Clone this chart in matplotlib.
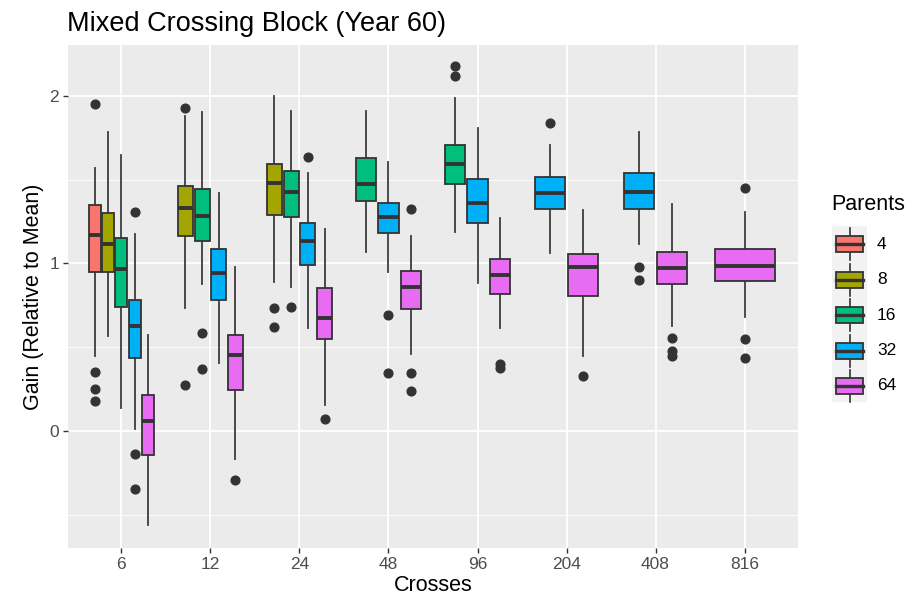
import matplotlib
matplotlib.use("Agg")
import matplotlib.pyplot as plt
from matplotlib.patches import Rectangle
from matplotlib.lines import Line2D

plt.rcParams['font.family'] = ['Liberation Sans', 'DejaVu Sans']

crosses = ["6", "12", "24", "48", "96", "204", "408", "816"]
parents = ["4", "8", "16", "32", "64"]
colors = ["#F8766D", "#A3A500", "#00BF7D", "#00B0F6", "#E76BF3"]

# one entry per box: cross index, parent index and its five-number summary
box_cross  = [0, 0, 0, 0, 0, 1, 1, 1, 1, 2, 2, 2, 2, 3, 3, 3, 4, 4, 4, 5, 5, 6, 6, 7]
box_parent = [0, 1, 2, 3, 4, 1, 2, 3, 4, 1, 2, 3, 4, 2, 3, 4, 2, 3, 4, 3, 4, 3, 4, 4]
whis_lo = [0.449, 0.565, 0.136, 0.010, -0.563, 0.733, 0.880, 0.405, -0.170, 0.892, 0.860, 0.615,
           0.156, 1.070, 0.950, 0.459, 1.188, 0.884, 0.613, 1.064, 0.449, 1.114, 0.625, 0.681]
q1 = [0.950, 0.950, 0.739, 0.433, -0.144, 1.164, 1.136, 0.784, 0.241, 1.287, 1.275, 0.988,
      0.549, 1.373, 1.180, 0.729, 1.475, 1.241, 0.818, 1.327, 0.804, 1.323, 0.878, 0.894]
med = [1.170, 1.118, 0.968, 0.627, 0.056, 1.333, 1.283, 0.944, 0.451, 1.479, 1.427, 1.132,
       0.677, 1.475, 1.277, 0.862, 1.595, 1.359, 0.928, 1.421, 0.980, 1.427, 0.974, 0.984]
q3 = [1.347, 1.299, 1.150, 0.780, 0.216, 1.463, 1.447, 1.088, 0.573, 1.597, 1.553, 1.244,
      0.856, 1.629, 1.363, 0.952, 1.708, 1.503, 1.028, 1.519, 1.058, 1.539, 1.070, 1.084]
whis_hi = [1.573, 1.786, 1.649, 1.178, 0.575, 1.880, 1.902, 1.423, 0.978, 2.002, 1.908, 1.543,
           1.204, 1.908, 1.607, 1.164, 1.986, 1.808, 1.273, 1.707, 1.319, 1.788, 1.357, 1.307]
fliers = [[1.952, 0.353, 0.251, 0.176], [], [], [1.307, -0.138, -0.349], [],
          [1.926, 0.273], [0.585, 0.369], [], [-0.293],
          [0.733, 0.623], [0.741], [1.635], [0.072],
          [], [0.691, 0.345], [1.325, 0.345, 0.235],
          [2.178, 2.122], [], [0.400, 0.375],
          [1.838], [0.329],
          [0.980, 0.904], [0.555, 0.475, 0.445],
          [1.453, 0.549, 0.435]]

yticks = [0, 1, 2]

fig = plt.figure(figsize=(9.18, 6.00), dpi=100)
W, H = 918, 600
ax = fig.add_axes([68 / W, (H - 548) / H, (798 - 68) / W, (548 - 45) / H])
ax.set_facecolor("#EBEBEB")
for s in ax.spines.values():
    s.set_visible(False)

# dodge layout
total_w = 0.75
n_at = {}
for c in box_cross:
    n_at[c] = n_at.get(c, 0) + 1
rank = {}
positions, widths = [], []
for c in box_cross:
    i = rank.get(c, 0)
    rank[c] = i + 1
    n = n_at[c]
    step = total_w / n
    positions.append(c + 1 + (i - (n - 1) / 2) * step)
    widths.append(step * 0.9)

stats = []
for k in range(len(box_cross)):
    stats.append(dict(whislo=whis_lo[k], q1=q1[k], med=med[k], q3=q3[k],
                      whishi=whis_hi[k], fliers=fliers[k]))

edge = "#333333"
bp = ax.bxp(stats, positions=positions, widths=widths, patch_artist=True,
            showcaps=False, manage_ticks=False,
            boxprops=dict(edgecolor=edge, linewidth=1.3),
            whiskerprops=dict(color="#3d3d3d", linewidth=1.3),
            medianprops=dict(color=edge, linewidth=2.8, solid_capstyle="butt"),
            flierprops=dict(marker="o", markerfacecolor=edge, markeredgecolor=edge,
                            markersize=6.3, linestyle="none"))
for patch, p in zip(bp["boxes"], box_parent):
    patch.set_facecolor(colors[p])
    patch.set_zorder(3)
for m in bp["medians"]:
    m.set_zorder(4)

ax.set_xlim(0.4, 8.6)
ax.set_ylim(-0.70, 2.305)
ax.set_xticks(range(1, len(crosses) + 1))
ax.set_xticklabels(crosses)
ax.set_yticks(yticks)
ax.set_yticklabels([str(t) for t in yticks])
ax.set_yticks([-0.5, 0.5, 1.5], minor=True)
ax.set_xticks([], minor=True)
ax.grid(which="major", color="white", linewidth=1.3, zorder=0)
ax.grid(which="minor", axis="y", color="white", linewidth=0.6, zorder=0)
ax.set_axisbelow(True)
ax.tick_params(axis="both", which="major", length=3.5, width=1.0, color="#333333",
               labelsize=12.5, labelcolor="#4D4D4D", pad=3)
ax.tick_params(axis="y", which="minor", length=0)

ax.set_xlabel("Crosses", fontsize=15.5, color="black", labelpad=2)
ax.set_ylabel("Gain (Relative to Mean)", fontsize=15.5, color="black", labelpad=4)
fig.text(67 / W, 1 - 24 / H, "Mixed Crossing Block (Year 60)", fontsize=19.5,
         ha="left", va="center", color="black")

# legend
lax = fig.add_axes([830 / W, (H - 405) / H, 40 / W, (405 - 222) / H])
lax.set_xlim(0, 40)
lax.set_ylim(405, 222)
lax.axis("off")
fig.text(831 / W, 1 - 204 / H, "Parents", fontsize=15.5, ha="left", va="center")
key_y = [244, 279.5, 315, 350.5, 386]
lax.add_patch(Rectangle((2, 226), 35, 176, facecolor="#F2F2F2", edgecolor="none"))
for p, (lab, col) in enumerate(zip(parents, colors)):
    y = key_y[p]
    lax.add_line(Line2D([19.5, 19.5], [y - 16, y + 16], color=edge, lw=1.2))
    lax.add_patch(Rectangle((6, y - 8), 27, 16, facecolor=col, edgecolor=edge, lw=1.3, zorder=3))
    lax.add_line(Line2D([6, 33], [y, y], color=edge, lw=2.4, zorder=4))
    fig.text(877 / W, 1 - y / H, lab, fontsize=12.5, ha="left", va="center", color="black")

fig.savefig("out.png", dpi=100)
